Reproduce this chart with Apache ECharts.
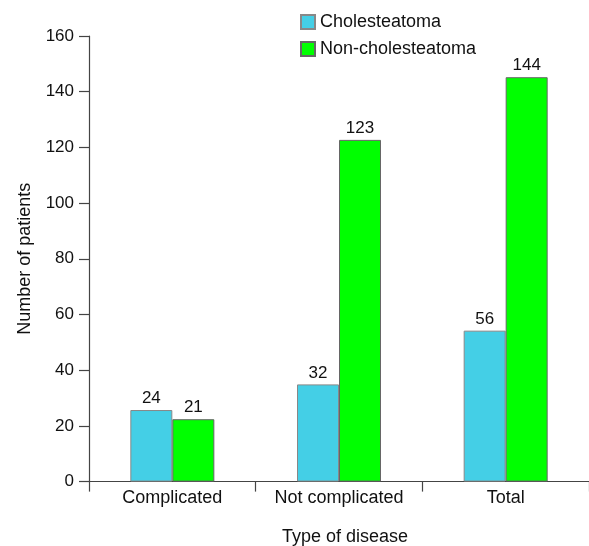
<!DOCTYPE html>
<html>
<head>
<meta charset="utf-8">
<script src="https://cdn.jsdelivr.net/npm/echarts@6/dist/echarts.min.js"></script>
<style>html,body{margin:0;padding:0;background:#fff;overflow:hidden;}#c{width:589px;height:546px;}</style>
</head>
<body>
<div id="c"></div>
<script>
const categories = ['Complicated', 'Not complicated', 'Total'];
const seriesNames = ['Cholesteatoma', 'Non-cholesteatoma'];
// bar heights as drawn in the picture
const cholesteatoma = [25.7, 34.9, 54.2];
const nonCholesteatoma = [22.4, 122.7, 145.2];
// value labels printed above bars
const cholLabels = ['24', '32', '56'];
const nonCholLabels = ['21', '123', '144'];
const yTicks = [0, 20, 40, 60, 80, 100, 120, 140, 160];

const font = 'Liberation Sans, Arial, Helvetica, sans-serif';
const chart = echarts.init(document.getElementById('c'), null, {renderer: 'canvas', width: 589, height: 546});
function labelFor(arr) {
  return {show: true, position: 'top', distance: 3, color: '#111', fontSize: 17, fontFamily: font,
    formatter: p => arr[p.dataIndex]};
}
chart.setOption({
  animation: false,
  backgroundColor: '#fff',
  textStyle: {fontFamily: font},
  legend: {
    orient: 'vertical', left: 300, top: 13, padding: 0,
    itemWidth: 14, itemHeight: 14, itemGap: 9,
    textStyle: {fontSize: 18, lineHeight: 14, color: '#111', fontFamily: font},
    data: seriesNames.map(n => ({name: n, icon: 'rect'}))
  },
  grid: {left: 89, top: 36, width: 500, height: 445.6, containLabel: false, outerBoundsMode: 'none'},
  xAxis: {
    type: 'category', data: categories,
    name: 'Type of disease', nameLocation: 'middle', nameGap: 46,
    nameTextStyle: {fontSize: 18, color: '#111', fontFamily: font, padding: [0, 0, 0, 12]},
    axisLine: {lineStyle: {color: '#444', width: 1.2}},
    axisTick: {show: true, length: 10, interval: 0, alignWithLabel: false, lineStyle: {color: '#444', width: 1.2}},
    axisLabel: {fontSize: 18, color: '#111', margin: 7, interval: 0, hideOverlap: false, fontFamily: font}
  },
  yAxis: {
    type: 'value', min: yTicks[0], max: yTicks[yTicks.length - 1], interval: 20,
    name: 'Number of patients', nameLocation: 'middle', nameGap: 55,
    nameTextStyle: {fontSize: 18, color: '#111', fontFamily: font},
    axisLine: {show: true, lineStyle: {color: '#444', width: 1.2}},
    axisTick: {show: true, length: 10, lineStyle: {color: '#444', width: 1.2}},
    axisLabel: {fontSize: 17, color: '#111', margin: 15, fontFamily: font},
    splitLine: {show: false}
  },
  series: [
    {name: seriesNames[0], type: 'bar', data: cholesteatoma, barWidth: 42, barGap: '0%',
      itemStyle: {color: '#44CFE6', borderColor: '#888', borderWidth: 1},
      label: labelFor(cholLabels)},
    {name: seriesNames[1], type: 'bar', data: nonCholesteatoma, barWidth: 42, barGap: '0%',
      itemStyle: {color: '#00FF00', borderColor: '#666', borderWidth: 1},
      label: labelFor(nonCholLabels)}
  ]
});
</script>
</body>
</html>
